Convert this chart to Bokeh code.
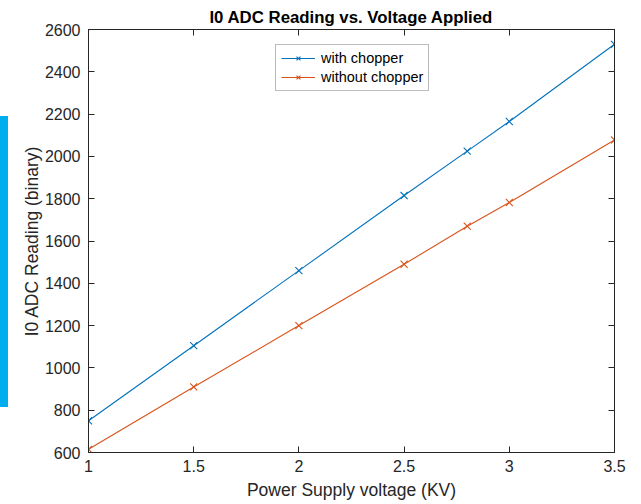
from bokeh.plotting import figure
from bokeh.models import (LinearAxis, FixedTicker, CustomJSTickFormatter, Legend,
                          LegendItem, Range1d, Div)
from bokeh.layouts import row
from bokeh.embed import file_html
from bokeh.resources import INLINE

# ---- data ----
voltage = [1, 1.5, 2, 2.5, 2.8, 3, 3.5]
with_chopper = [750, 1105, 1460, 1815, 2025, 2165, 2530]
without_chopper = [615, 910, 1200, 1490, 1670, 1782, 2078]
x_ticks = [1, 1.5, 2, 2.5, 3, 3.5]
y_ticks = [600, 800, 1000, 1200, 1400, 1600, 1800, 2000, 2200, 2400, 2600]
series_names = ["with chopper", "without chopper"]
series_colors = ["#0072BD", "#D95319"]

FONT = "Liberation Sans"
TXT = "#262626"

p = figure(width=633, height=504, output_backend="svg", toolbar_location=None,
           x_range=Range1d(1, 3.5), y_range=Range1d(600, 2600),
           min_border_left=80, min_border_right=27, min_border_top=29,
           min_border_bottom=52,
           title="I0 ADC Reading vs. Voltage Applied")

p.background_fill_color = "white"
p.border_fill_color = "white"
p.outline_line_color = TXT
p.xgrid.visible = False
p.ygrid.visible = False

p.title.text_font = FONT
p.title.text_font_size = "16.8px"
p.title.text_font_style = "bold"
p.title.text_color = "black"
p.title.align = "center"
p.title.standoff = 5

fmt = CustomJSTickFormatter(code="return tick.toString();")
blank = CustomJSTickFormatter(code="return '';")

def style_axis(ax, labels=True):
    ax.axis_line_color = TXT
    ax.axis_line_width = 1
    ax.major_tick_line_color = TXT
    ax.major_tick_in = 6
    ax.major_tick_out = 0
    ax.minor_tick_line_color = None
    if labels:
        ax.major_label_text_font = FONT
        ax.major_label_text_font_size = "16px"
        ax.major_label_text_color = TXT
        ax.axis_label_text_font = FONT
        ax.axis_label_text_font_size = "17.5px"
        ax.axis_label_text_font_style = "normal"
        ax.axis_label_text_color = TXT
    else:
        ax.formatter = blank
        ax.major_label_standoff = 0

p.xaxis.ticker = FixedTicker(ticks=x_ticks)
p.xaxis.formatter = fmt
p.yaxis.ticker = FixedTicker(ticks=y_ticks)
p.xaxis.axis_label = "Power Supply voltage (KV)"
p.yaxis.axis_label = "I0 ADC Reading (binary)"
style_axis(p.xaxis[0])
style_axis(p.yaxis[0])
p.xaxis.major_label_standoff = 7
p.xaxis.axis_label_standoff = 5
p.yaxis.major_label_standoff = 8
p.yaxis.axis_label_standoff = 0

top_ax = LinearAxis(ticker=FixedTicker(ticks=x_ticks))
style_axis(top_ax, labels=False)
p.add_layout(top_ax, "above")
right_ax = LinearAxis(ticker=FixedTicker(ticks=y_ticks))
style_axis(right_ax, labels=False)
p.add_layout(right_ax, "right")

items = []
for name, ys, col in zip(series_names, [with_chopper, without_chopper], series_colors):
    ln = p.line(voltage, ys, line_color=col, line_width=1.1)
    mk = p.scatter(voltage, ys, marker="x", size=10, line_color=col, line_width=1.1)
    items.append(LegendItem(label=name, renderers=[ln, mk]))

legend = Legend(items=items, location=(187, 361))
legend.border_line_color = "#7a7a7a"
legend.border_line_width = 1
legend.background_fill_color = "white"
legend.background_fill_alpha = 1
legend.label_text_font = FONT
legend.label_text_font_size = "14.5px"
legend.label_text_color = "black"
legend.glyph_width = 34
legend.glyph_height = 14
legend.label_height = 14
legend.spacing = 3
legend.padding = 5
legend.margin = 0
legend.label_standoff = 6
p.add_layout(legend)

bar = Div(width=8, height=504,
          text='<div style="position:absolute;left:0;top:116px;width:8px;'
               'height:291px;background:#00AEEF"></div>',
          margin=0)

layout = row(bar, p, margin=0)
open("out.html", "w").write(file_html(layout, INLINE))
